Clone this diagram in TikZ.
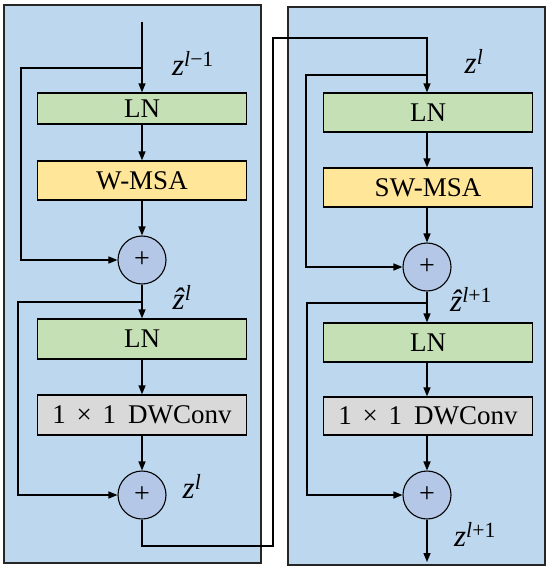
\documentclass[tikz,border=0pt]{standalone}
\usepackage{fontspec}
\setmainfont{Liberation Serif}
\usetikzlibrary{arrows.meta}

\definecolor{panelblue}{RGB}{189,215,238}
\definecolor{lngreen}{RGB}{197,224,180}
\definecolor{msayellow}{RGB}{255,230,153}
\definecolor{convgray}{RGB}{217,217,217}
\definecolor{addblue}{RGB}{180,199,231}

\newcommand{\zsup}[1]{\textit{z}\textsuperscript{#1}}
\newcommand{\zhatsup}[1]{\textit{\^z}\textsuperscript{#1}}
\newcommand{\dwconv}{1\hspace{0.4em}×\hspace{0.4em}1\hspace{0.45em}DWConv}

\begin{document}
\begin{tikzpicture}[
    x=1pt, y=-1pt,
    panel/.style={draw=black!85, line width=1.3pt, fill=panelblue},
    layer/.style={rectangle, draw, line width=1.3pt, minimum width=209pt, inner sep=0pt, font=\fontsize{27}{29}\selectfont},
    addop/.style={circle, draw, line width=1.1pt, fill=addblue, minimum size=48pt, inner sep=0pt, font=\fontsize{28}{30}\selectfont},
    zlabel/.style={font=\fontsize{31}{33}\selectfont},
    flow/.style={line width=1.4pt, -{Triangle[length=9pt,width=7pt]}},
    wire/.style={line width=1.4pt}
]
\useasboundingbox (0,0) rectangle (550,569);

% the two blocks
\draw[panel] (4,5) rectangle (261,563);
\draw[panel] (288,7) rectangle (545,565);

% left block: W-MSA
\coordinate (lin) at (142,22);
\coordinate (lsplit1) at (142,68);
\node[layer, fill=lngreen, minimum height=31pt] (lln1) at (142,108.5) {LN};
\node[layer, fill=msayellow, minimum height=39pt] (lmsa) at (142,180.5) {W-MSA};
\node[addop] (ladd1) at (142,260) {+};
\coordinate (lsplit2) at (142,302);
\node[layer, fill=lngreen, minimum height=40pt] (lln2) at (142,339) {LN};
\node[layer, fill=convgray, minimum height=40pt] (lconv) at (142,415) {\dwconv};
\node[addop] (ladd2) at (142,495) {+};

\node[zlabel] (lzin) at (193,63) {\zsup{\textit{l}−1}};
\node[zlabel] (lzhat) at (182,297) {\zhatsup{\textit{l}}};
\node[zlabel] (lzout) at (192,486) {\zsup{\textit{l}}};

% right block: SW-MSA
\coordinate (rsplit1) at (427,75);
\node[layer, fill=lngreen, minimum height=39pt] (rln1) at (428,112.5) {LN};
\node[layer, fill=msayellow, minimum height=39pt] (rmsa) at (428,187.5) {SW-MSA};
\node[addop] (radd1) at (427,267) {+};
\coordinate (rsplit2) at (427,303);
\node[layer, fill=lngreen, minimum height=39pt] (rln2) at (428,342.5) {LN};
\node[layer, fill=convgray, minimum height=38pt] (rconv) at (428,416) {\dwconv};
\node[addop] (radd2) at (427,495) {+};
\coordinate (rout) at (427,562);

\node[zlabel] (rzin) at (474,61) {\zsup{\textit{l}}};
\node[zlabel] (rzhat) at (471,299) {\zhatsup{\textit{l}+1}};
\node[zlabel] (rzout) at (475,534) {\zsup{\textit{l}+1}};

% hand-over between the blocks
\coordinate (hop1) at (273,546);
\coordinate (hop2) at (273,38);

% left connectors
\draw[flow] (lin) -- (lln1);
\draw[flow] (lsplit1) -- (21,68) |- (ladd1);
\draw[flow] (lln1) -- (lmsa);
\draw[flow] (lmsa) -- (ladd1);
\draw[flow] (ladd1) -- (lln2);
\draw[flow] (lsplit2) -- (18,302) |- (ladd2);
\draw[flow] (lln2) -- (lconv);
\draw[flow] (lconv) -- (ladd2);

\draw[flow] (ladd2) |- (hop1) -- (hop2) -| (rln1.north -| radd1);

% right connectors
\draw[flow] (rsplit1) -- (306,75) |- (radd1);
\draw[flow] (rln1.south -| radd1) -- (rmsa.north -| radd1);
\draw[flow] (rmsa.south -| radd1) -- (radd1);
\draw[flow] (radd1) -- (rln2.north -| radd1);
\draw[flow] (rsplit2) -- (307,303) |- (radd2);
\draw[flow] (rln2.south -| radd1) -- (rconv.north -| radd1);
\draw[flow] (rconv.south -| radd1) -- (radd2);
\draw[flow] (radd2) -- (rout);

\end{tikzpicture}
\end{document}
